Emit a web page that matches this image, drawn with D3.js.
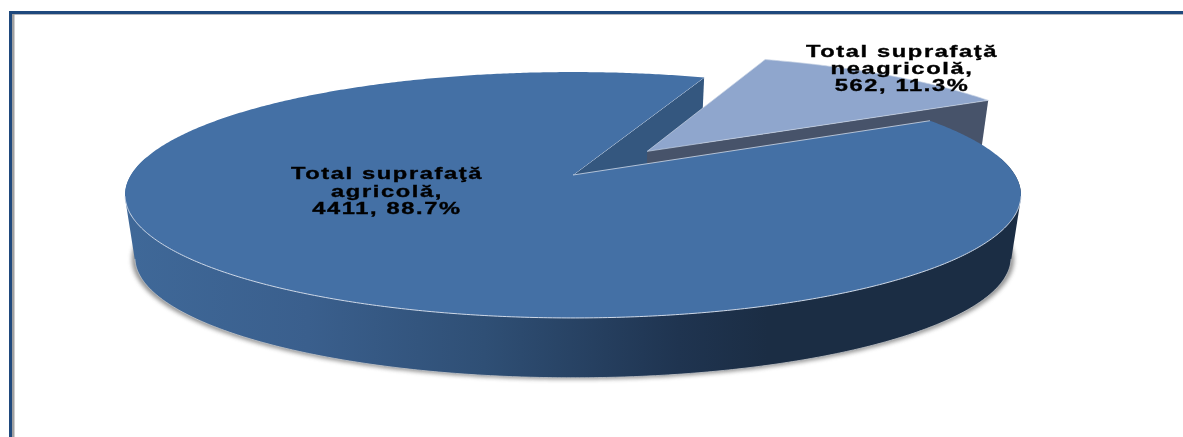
<!DOCTYPE html>
<html><head><meta charset="utf-8">
<script src="https://cdn.jsdelivr.net/npm/d3@7"></script>
<style>html,body{margin:0;padding:0;background:#fff}svg{display:block}</style>
</head><body><svg id="c" width="1183" height="437"></svg>
<script>
const categories = ["Total suprafaţă neagricolă", "Total suprafaţă agricolă"];
const values = [562, 4411];
const percents = ["11.3%", "88.7%"];
const labelLines = [["Total suprafaţă","neagricolă,","562, 11.3%"],["Total suprafaţă","agricolă,","4411, 88.7%"]];
const colors = {top:["#8fa6cd","#4470a5"], cut:["#47536a","#34577f"], rim:"#cfd9e8"};
const firstSliceAngleDeg = 20, explode = 0.268;

const W = 1183, H = 437, rad = Math.PI/180;
const svg = d3.select("#c");
const defs = svg.append("defs");
const sx = d3.scaleLinear().domain([0,1]).range([573,573+442]);
const sy = d3.scaleLinear().domain([0,1]).range([175,175-119.7]);
const persp = 0.1626, depth = 63, bottomScale = 0.978;

// perspective mapping of a disc point (u right, v back), z=0 top face, z=1 bottom face
function project(u,v,z){
  const w = 1 + persp*v, f = z ? bottomScale : 1;
  const X = sx(0) + (sx(u/w)-sx(0))*f;
  const Y = sy(0) + (sy(v/w)-sy(0))*f + (z?depth:0);
  return [X,Y];
}
const pieGen = d3.pie().sort(null).startAngle(firstSliceAngleDeg*rad).endAngle((firstSliceAngleDeg+360)*rad);
const arcs = pieGen(values);
const line = d3.line();
const steps = (a,b) => { const n = Math.max(2,Math.ceil(Math.abs(b-a)/(0.5*rad))); return d3.range(n+1).map(i=>a+(b-a)*i/n); };
const off = d => { const m=(d.startAngle+d.endAngle)/2; return d.index===0?[Math.sin(m)*explode,Math.cos(m)*explode]:[0,0]; };
const rimPt = (d,t,z) => { const o=off(d); return project(Math.sin(t)+o[0],Math.cos(t)+o[1],z); };
const apex = (d,z) => { const o=off(d); return project(o[0],o[1],z); };
const topPath = d => line([apex(d,0),...steps(d.startAngle,d.endAngle).map(t=>rimPt(d,t,0))])+"Z";
const wallQuad = (d,t) => line([apex(d,0),rimPt(d,t,0),rimPt(d,t,1),apex(d,1)])+"Z";

// frame
svg.append("rect").attr("x",9).attr("y",11).attr("width",W-9).attr("height",3).attr("fill","#1f497d");
svg.append("rect").attr("x",9).attr("y",11).attr("width",3).attr("height",H-11).attr("fill","#1f497d");
svg.append("rect").attr("x",12).attr("y",14).attr("width",W-12).attr("height",1).attr("fill","#b4b6bd");
svg.append("rect").attr("x",12).attr("y",14).attr("width",2.5).attr("height",H-14).attr("fill","#a0a0a0");

// defs
const grad = defs.append("linearGradient").attr("id","wall").attr("gradientUnits","userSpaceOnUse")
  .attr("x1",sx(-1)).attr("x2",sx(1)).attr("y1",0).attr("y2",0);
[[0,"#3f6898"],[0.2,"#3a5f8d"],[0.4,"#2f4f75"],[0.62,"#1f3450"],[0.72,"#1b2d44"],[1,"#1b2d44"]]
  .forEach(s=>grad.append("stop").attr("offset",s[0]).attr("stop-color",s[1]));
defs.append("filter").attr("id","blur").attr("x","-5%").attr("y","-10%").attr("width","110%").attr("height","120%")
  .append("feGaussianBlur").attr("stdDeviation",2.2);
defs.append("filter").attr("id","soft").attr("x","-5%").attr("y","-20%").attr("width","110%").attr("height","140%")
  .append("feGaussianBlur").attr("stdDeviation",0.5);

const main = arcs[1], ex = arcs[0];
const frontA = 82*rad, frontB = 278*rad;
// outer wall runs across the front of the main slice only: hull of its top and bottom rims
const frontTop = steps(frontA,frontB).map(t=>rimPt(main,t,0));
const frontBot = steps(frontA,frontB).map(t=>rimPt(main,t,1));
const wallHull = d3.polygonHull(frontTop.concat(frontBot));
const rimTop = steps(100*rad,260*rad).map(t=>rimPt(main,t,0));
const rimBot = steps(100*rad,260*rad).map(t=>rimPt(main,t,1));

// shadow, from the bottom rim only
svg.append("path").attr("d",line(frontBot.map(p=>[p[0]+(p[0]<573?-3:3),p[1]+1.5]))+"Z")
  .attr("fill","#666").attr("opacity",0.7).attr("filter","url(#blur)");
// outer wall
svg.append("path").attr("d",line(wallHull)+"Z").attr("fill","url(#wall)");
svg.append("path").attr("d",line(rimBot)).attr("fill","none").attr("stroke","#c4c6ca").attr("stroke-width",0.8);
// main cut wall, visible at its start angle
svg.append("path").attr("d",wallQuad(main,main.endAngle)).attr("fill",colors.cut[1]);
svg.append("path").attr("d",line([apex(main,0),rimPt(main,main.endAngle,0)])).attr("stroke",colors.rim).attr("fill","none").attr("stroke-width",1);
// exploded slice wall + top
svg.append("path").attr("d",wallQuad(ex,ex.endAngle)).attr("fill",colors.cut[0]);
svg.append("path").attr("d",topPath(ex)).attr("fill",colors.top[0]).attr("stroke","#c7d2e4").attr("stroke-width",0.7);
// main top
svg.append("path").attr("d",topPath(main)).attr("fill",colors.top[1]);
svg.append("path").attr("d",line(rimTop)).attr("fill","none").attr("stroke",colors.rim).attr("stroke-width",1);
svg.append("path").attr("d",line([rimPt(main,main.startAngle,0),apex(main,0)])).attr("fill","none").attr("stroke",colors.rim).attr("stroke-width",0.8);

// labels
const labelPos = [{x:902,y:[57,74,91]},{x:387,y:[179,197,214]}];
labelLines.forEach((lines,i)=>{
  const g = svg.append("g").attr("filter","url(#soft)");
  lines.forEach((s,j)=>{
    g.append("text").text(s)
     .attr("transform",`translate(${labelPos[i].x},${labelPos[i].y[j]}) scale(1.48,1)`)
     .attr("text-anchor","middle").attr("font-family","'Liberation Sans',Arial,sans-serif")
     .attr("font-weight","bold").attr("font-size",16).attr("letter-spacing",1.1)
     .attr("fill","#000").attr("stroke","#000").attr("stroke-width",0.35);
  });
});
</script></body></html>
